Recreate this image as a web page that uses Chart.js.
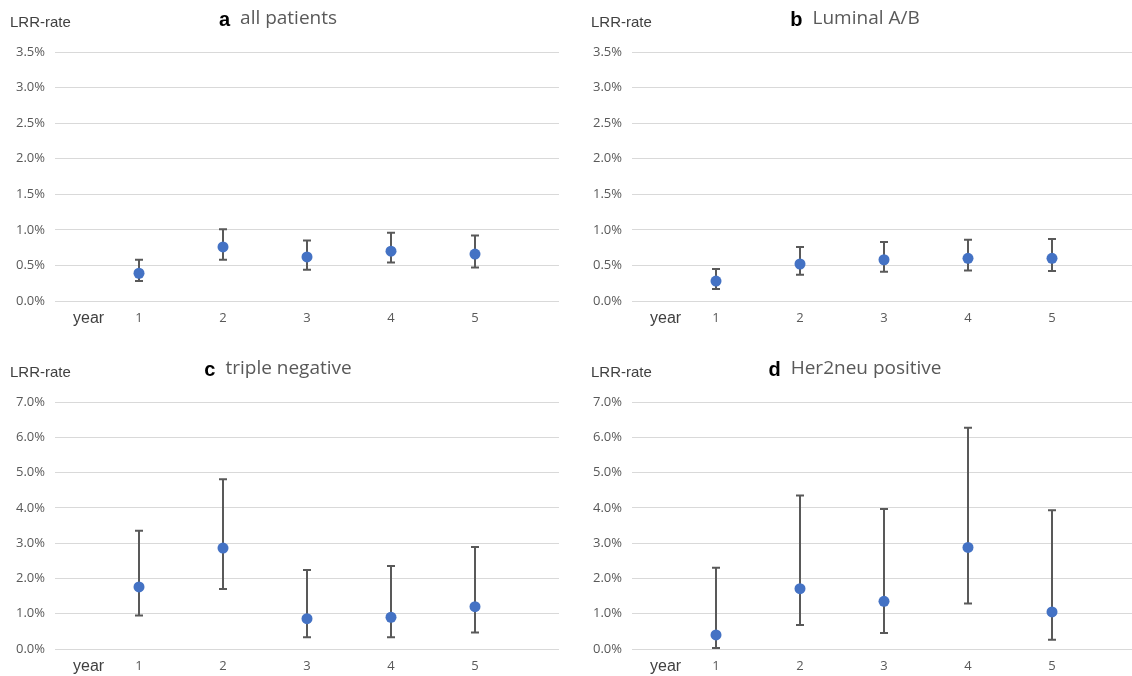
<!DOCTYPE html>
<html>
<head>
<meta charset="utf-8">
<script src="https://cdn.jsdelivr.net/npm/chart.js@4.4.1/dist/chart.umd.min.js"></script>
<style>
html, body { margin:0; padding:0; background:#fff; overflow:hidden; width:1132px; height:676px; }
canvas { position:absolute; }
</style>
</head>
<body>
<canvas id="cA" width="566" height="340" style="left:0;top:0"></canvas>
<canvas id="cB" width="566" height="340" style="left:577px;top:0"></canvas>
<canvas id="cC" width="566" height="326" style="left:0;top:350px"></canvas>
<canvas id="cD" width="566" height="326" style="left:577px;top:350px"></canvas>
<script>
// datos (en %)
const years = [1, 2, 3, 4, 5];

const allRate = [0.39, 0.76, 0.62, 0.70, 0.66];
const allLow  = [0.28, 0.58, 0.44, 0.54, 0.47];
const allHigh = [0.58, 1.01, 0.85, 0.96, 0.92];

const lumRate = [0.28, 0.52, 0.58, 0.60, 0.60];
const lumLow  = [0.17, 0.37, 0.41, 0.43, 0.42];
const lumHigh = [0.45, 0.76, 0.83, 0.86, 0.87];

const tnRate = [1.76, 2.86, 0.86, 0.90, 1.20];
const tnLow  = [0.95, 1.70, 0.33, 0.33, 0.47];
const tnHigh = [3.35, 4.81, 2.24, 2.35, 2.89];

const herRate = [0.40, 1.71, 1.35, 2.88, 1.05];
const herLow  = [0.03, 0.68, 0.45, 1.29, 0.26];
const herHigh = [2.30, 4.35, 3.97, 6.27, 3.93];

const topMax = 3.5, topStep = 0.5;
const bottomMax = 7, bottomStep = 1;

const yLabel = 'LRR-rate';
const xLabel = 'year';

// barras de error + textos
const panelPlugin = {
    id: 'panelPlugin',
    beforeDatasetsDraw(chart) {
        const o = chart.options.plugins.panelPlugin;
        const ctx = chart.ctx;
        const xs = chart.scales.x, ys = chart.scales.y;
        ctx.save();
        ctx.strokeStyle = '#595959';
        ctx.lineWidth = 2;
        years.forEach((yr, i) => {
            const px = xs.getPixelForValue(yr);
            const top = ys.getPixelForValue(o.high[i]);
            const bot = ys.getPixelForValue(o.low[i]);
            ctx.beginPath();
            ctx.moveTo(px, top); ctx.lineTo(px, bot);
            ctx.moveTo(px - 4, top); ctx.lineTo(px + 4, top);
            ctx.moveTo(px - 4, bot); ctx.lineTo(px + 4, bot);
            ctx.stroke();
        });
        ctx.restore();
    },
    afterDraw(chart) {
        const o = chart.options.plugins.panelPlugin;
        const ctx = chart.ctx;
        const area = chart.chartArea;
        ctx.save();
        // titulo
        ctx.textBaseline = 'middle';
        ctx.font = 'bold 20px "Liberation Sans", Arial';
        const w1 = ctx.measureText(o.letter).width;
        ctx.font = '19px "Open Sans"';
        const w2 = ctx.measureText(o.title).width;
        const gap = 10;
        let x0 = 278 - (w1 + gap + w2) / 2;
        ctx.textAlign = 'left';
        ctx.fillStyle = '#000';
        ctx.font = 'bold 20px "Liberation Sans", Arial';
        ctx.fillText(o.letter, x0, 20);
        ctx.fillStyle = '#595959';
        ctx.font = '19px "Open Sans"';
        ctx.fillText(o.title, x0 + w1 + gap, 19);
        // LRR-rate
        ctx.fillStyle = '#404040';
        ctx.font = '15px "Liberation Sans", Arial';
        ctx.fillText(yLabel, o.labelX, 23);
        // year
        ctx.textAlign = 'center';
        ctx.font = '16px "Liberation Sans", Arial';
        ctx.fillStyle = '#404040';
        ctx.fillText(xLabel, chart.scales.x.getPixelForValue(0.4), area.bottom + 18);
        ctx.restore();
    }
};

function CrearPanel(id, letter, title, rate, low, high, yMax, step, xHeight, labelX) {
    const ctx = document.getElementById(id).getContext('2d');
    return new Chart(ctx, {
        type: 'scatter',
        data: {
            datasets: [{
                data: years.map((yr, i) => ({ x: yr, y: rate[i] })),
                backgroundColor: '#4472C4',
                borderWidth: 0,
                pointRadius: 5.5,
                pointHoverRadius: 5.5
            }]
        },
        options: {
            responsive: false,
            animation: false,
            events: [],
            layout: { padding: { top: 52, left: 0, right: 7, bottom: 0 } },
            scales: {
                x: {
                    type: 'linear',
                    min: 0,
                    max: 6,
                    afterBuildTicks: (s) => { s.ticks = years.map(v => ({ value: v })); },
                    afterFit: (s) => { s.height = xHeight; },
                    grid: { display: false, drawTicks: false },
                    border: { display: false },
                    ticks: {
                        padding: 9,
                        color: '#595959',
                        font: { family: 'Open Sans', size: 13 },
                        callback: (v) => String(v)
                    }
                },
                y: {
                    min: 0,
                    max: yMax,
                    afterFit: (s) => { s.width = 55; },
                    grid: { color: '#d9d9d9', lineWidth: 1, drawTicks: false },
                    border: { display: false },
                    ticks: {
                        stepSize: step,
                        padding: 10,
                        color: '#595959',
                        font: { family: 'Open Sans', size: 13 },
                        callback: (v) => v.toFixed(1) + '%'
                    }
                }
            },
            plugins: {
                legend: { display: false },
                tooltip: { enabled: false },
                panelPlugin: { letter: letter, title: title, low: low, high: high, labelX: labelX }
            }
        },
        plugins: [panelPlugin]
    });
}

CrearPanel('cA', 'a', 'all patients', allRate, allLow, allHigh, topMax, topStep, 39, 10);
CrearPanel('cB', 'b', 'Luminal A/B', lumRate, lumLow, lumHigh, topMax, topStep, 39, 14);
CrearPanel('cC', 'c', 'triple negative', tnRate, tnLow, tnHigh, bottomMax, bottomStep, 27, 10);
CrearPanel('cD', 'd', 'Her2neu positive', herRate, herLow, herHigh, bottomMax, bottomStep, 27, 14);
</script>
</body>
</html>
